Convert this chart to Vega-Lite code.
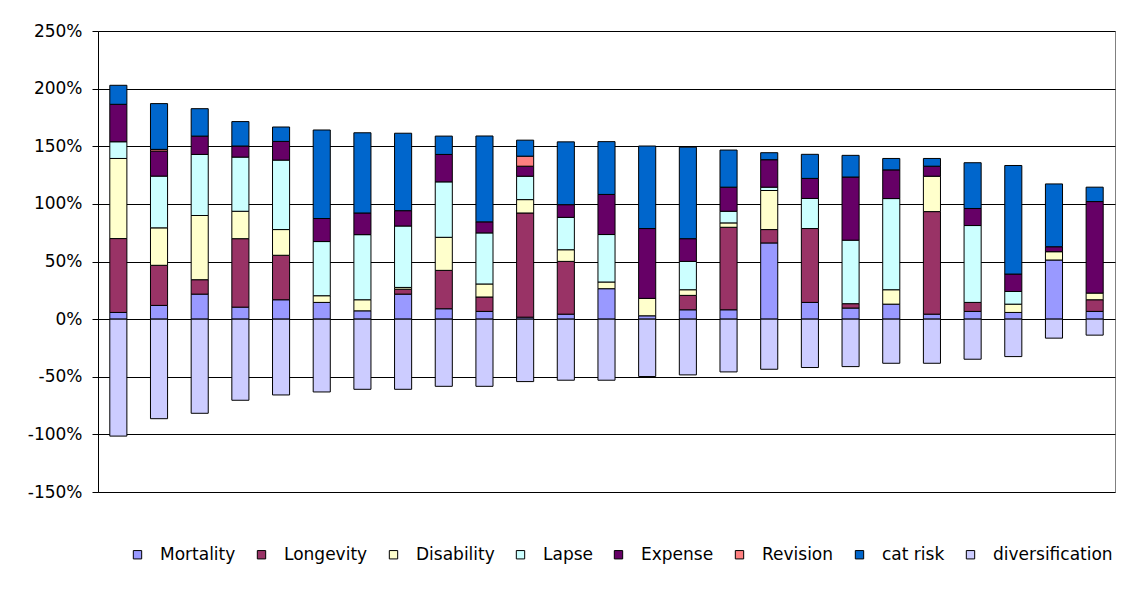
{
  "$schema": "https://vega.github.io/schema/vega-lite/v6.json",
  "autosize": {"type": "none"},
  "padding": {"left": 98, "top": 31, "right": 7, "bottom": 98},
  "width": 1017,
  "height": 461,
  "background": "white",
  "config": {
    "view": {"stroke": "#808080", "strokeWidth": 1},
    "font": "DejaVu Sans"
  },
  "data": {
    "values": [
      {"b": 1, "risk": "Mortality", "v": 0.058}, {"b": 1, "risk": "Longevity", "v": 0.641}, {"b": 1, "risk": "Disability", "v": 0.695}, {"b": 1, "risk": "Lapse", "v": 0.145}, {"b": 1, "risk": "Expense", "v": 0.325}, {"b": 1, "risk": "cat risk", "v": 0.165}, {"b": 1, "risk": "diversification", "v": -1.015},
      {"b": 2, "risk": "Mortality", "v": 0.119}, {"b": 2, "risk": "Longevity", "v": 0.348}, {"b": 2, "risk": "Disability", "v": 0.325}, {"b": 2, "risk": "Lapse", "v": 0.449}, {"b": 2, "risk": "Expense", "v": 0.217}, {"b": 2, "risk": "Revision", "v": 0.015}, {"b": 2, "risk": "cat risk", "v": 0.397}, {"b": 2, "risk": "diversification", "v": -0.864},
      {"b": 3, "risk": "Mortality", "v": 0.217}, {"b": 3, "risk": "Longevity", "v": 0.125}, {"b": 3, "risk": "Disability", "v": 0.557}, {"b": 3, "risk": "Lapse", "v": 0.530}, {"b": 3, "risk": "Expense", "v": 0.159}, {"b": 3, "risk": "cat risk", "v": 0.238}, {"b": 3, "risk": "diversification", "v": -0.817},
      {"b": 4, "risk": "Mortality", "v": 0.104}, {"b": 4, "risk": "Longevity", "v": 0.594}, {"b": 4, "risk": "Disability", "v": 0.238}, {"b": 4, "risk": "Lapse", "v": 0.470}, {"b": 4, "risk": "Expense", "v": 0.096}, {"b": 4, "risk": "cat risk", "v": 0.212}, {"b": 4, "risk": "diversification", "v": -0.704},
      {"b": 5, "risk": "Mortality", "v": 0.168}, {"b": 5, "risk": "Longevity", "v": 0.386}, {"b": 5, "risk": "Disability", "v": 0.223}, {"b": 5, "risk": "Lapse", "v": 0.603}, {"b": 5, "risk": "Expense", "v": 0.162}, {"b": 5, "risk": "cat risk", "v": 0.125}, {"b": 5, "risk": "diversification", "v": -0.658},
      {"b": 6, "risk": "Mortality", "v": 0.145}, {"b": 6, "risk": "Disability", "v": 0.058}, {"b": 6, "risk": "Lapse", "v": 0.470}, {"b": 6, "risk": "Expense", "v": 0.200}, {"b": 6, "risk": "cat risk", "v": 0.768}, {"b": 6, "risk": "diversification", "v": -0.632},
      {"b": 7, "risk": "Mortality", "v": 0.072}, {"b": 7, "risk": "Disability", "v": 0.096}, {"b": 7, "risk": "Lapse", "v": 0.565}, {"b": 7, "risk": "Expense", "v": 0.188}, {"b": 7, "risk": "cat risk", "v": 0.696}, {"b": 7, "risk": "diversification", "v": -0.609},
      {"b": 8, "risk": "Mortality", "v": 0.217}, {"b": 8, "risk": "Longevity", "v": 0.043}, {"b": 8, "risk": "Disability", "v": 0.015}, {"b": 8, "risk": "Lapse", "v": 0.533}, {"b": 8, "risk": "Expense", "v": 0.133}, {"b": 8, "risk": "cat risk", "v": 0.672}, {"b": 8, "risk": "diversification", "v": -0.609},
      {"b": 9, "risk": "Mortality", "v": 0.090}, {"b": 9, "risk": "Longevity", "v": 0.333}, {"b": 9, "risk": "Disability", "v": 0.287}, {"b": 9, "risk": "Lapse", "v": 0.481}, {"b": 9, "risk": "Expense", "v": 0.238}, {"b": 9, "risk": "cat risk", "v": 0.159}, {"b": 9, "risk": "diversification", "v": -0.583},
      {"b": 10, "risk": "Mortality", "v": 0.067}, {"b": 10, "risk": "Longevity", "v": 0.125}, {"b": 10, "risk": "Disability", "v": 0.113}, {"b": 10, "risk": "Lapse", "v": 0.443}, {"b": 10, "risk": "Expense", "v": 0.096}, {"b": 10, "risk": "cat risk", "v": 0.745}, {"b": 10, "risk": "diversification", "v": -0.583},
      {"b": 11, "risk": "Mortality", "v": 0.017}, {"b": 11, "risk": "Longevity", "v": 0.904}, {"b": 11, "risk": "Disability", "v": 0.116}, {"b": 11, "risk": "Lapse", "v": 0.203}, {"b": 11, "risk": "Expense", "v": 0.087}, {"b": 11, "risk": "Revision", "v": 0.087}, {"b": 11, "risk": "cat risk", "v": 0.139}, {"b": 11, "risk": "diversification", "v": -0.542},
      {"b": 12, "risk": "Mortality", "v": 0.043}, {"b": 12, "risk": "Longevity", "v": 0.458}, {"b": 12, "risk": "Disability", "v": 0.101}, {"b": 12, "risk": "Lapse", "v": 0.281}, {"b": 12, "risk": "Expense", "v": 0.110}, {"b": 12, "risk": "cat risk", "v": 0.545}, {"b": 12, "risk": "diversification", "v": -0.530},
      {"b": 13, "risk": "Mortality", "v": 0.264}, {"b": 13, "risk": "Disability", "v": 0.058}, {"b": 13, "risk": "Lapse", "v": 0.412}, {"b": 13, "risk": "Expense", "v": 0.348}, {"b": 13, "risk": "cat risk", "v": 0.458}, {"b": 13, "risk": "diversification", "v": -0.530},
      {"b": 14, "risk": "Mortality", "v": 0.029}, {"b": 14, "risk": "Disability", "v": 0.151}, {"b": 14, "risk": "Expense", "v": 0.606}, {"b": 14, "risk": "cat risk", "v": 0.716}, {"b": 14, "risk": "diversification", "v": -0.498},
      {"b": 15, "risk": "Mortality", "v": 0.081}, {"b": 15, "risk": "Longevity", "v": 0.125}, {"b": 15, "risk": "Disability", "v": 0.049}, {"b": 15, "risk": "Lapse", "v": 0.246}, {"b": 15, "risk": "Expense", "v": 0.197}, {"b": 15, "risk": "cat risk", "v": 0.794}, {"b": 15, "risk": "diversification", "v": -0.484},
      {"b": 16, "risk": "Mortality", "v": 0.081}, {"b": 16, "risk": "Longevity", "v": 0.716}, {"b": 16, "risk": "Disability", "v": 0.038}, {"b": 16, "risk": "Lapse", "v": 0.101}, {"b": 16, "risk": "Expense", "v": 0.209}, {"b": 16, "risk": "cat risk", "v": 0.322}, {"b": 16, "risk": "diversification", "v": -0.458},
      {"b": 17, "risk": "Mortality", "v": 0.661}, {"b": 17, "risk": "Longevity", "v": 0.116}, {"b": 17, "risk": "Disability", "v": 0.339}, {"b": 17, "risk": "Lapse", "v": 0.029}, {"b": 17, "risk": "Expense", "v": 0.238}, {"b": 17, "risk": "cat risk", "v": 0.061}, {"b": 17, "risk": "diversification", "v": -0.435},
      {"b": 18, "risk": "Mortality", "v": 0.145}, {"b": 18, "risk": "Longevity", "v": 0.641}, {"b": 18, "risk": "Lapse", "v": 0.261}, {"b": 18, "risk": "Expense", "v": 0.174}, {"b": 18, "risk": "cat risk", "v": 0.209}, {"b": 18, "risk": "diversification", "v": -0.420},
      {"b": 19, "risk": "Mortality", "v": 0.096}, {"b": 19, "risk": "Longevity", "v": 0.038}, {"b": 19, "risk": "Lapse", "v": 0.551}, {"b": 19, "risk": "Expense", "v": 0.548}, {"b": 19, "risk": "cat risk", "v": 0.188}, {"b": 19, "risk": "diversification", "v": -0.412},
      {"b": 20, "risk": "Mortality", "v": 0.130}, {"b": 20, "risk": "Disability", "v": 0.125}, {"b": 20, "risk": "Lapse", "v": 0.791}, {"b": 20, "risk": "Expense", "v": 0.249}, {"b": 20, "risk": "cat risk", "v": 0.099}, {"b": 20, "risk": "diversification", "v": -0.383},
      {"b": 21, "risk": "Mortality", "v": 0.043}, {"b": 21, "risk": "Longevity", "v": 0.890}, {"b": 21, "risk": "Disability", "v": 0.307}, {"b": 21, "risk": "Expense", "v": 0.087}, {"b": 21, "risk": "cat risk", "v": 0.067}, {"b": 21, "risk": "diversification", "v": -0.383},
      {"b": 22, "risk": "Mortality", "v": 0.067}, {"b": 22, "risk": "Longevity", "v": 0.078}, {"b": 22, "risk": "Lapse", "v": 0.667}, {"b": 22, "risk": "Expense", "v": 0.148}, {"b": 22, "risk": "cat risk", "v": 0.397}, {"b": 22, "risk": "diversification", "v": -0.348},
      {"b": 23, "risk": "Mortality", "v": 0.058}, {"b": 23, "risk": "Disability", "v": 0.072}, {"b": 23, "risk": "Lapse", "v": 0.110}, {"b": 23, "risk": "Expense", "v": 0.151}, {"b": 23, "risk": "cat risk", "v": 0.942}, {"b": 23, "risk": "diversification", "v": -0.325},
      {"b": 24, "risk": "Mortality", "v": 0.513}, {"b": 24, "risk": "Disability", "v": 0.072}, {"b": 24, "risk": "Expense", "v": 0.043}, {"b": 24, "risk": "cat risk", "v": 0.545}, {"b": 24, "risk": "diversification", "v": -0.165},
      {"b": 25, "risk": "Mortality", "v": 0.067}, {"b": 25, "risk": "Longevity", "v": 0.101}, {"b": 25, "risk": "Disability", "v": 0.058}, {"b": 25, "risk": "Expense", "v": 0.794}, {"b": 25, "risk": "cat risk", "v": 0.125}, {"b": 25, "risk": "diversification", "v": -0.139}
    ]
  },
  "transform": [
    {"lookup": "risk", "from": {"data": {"values": [
      {"risk": "Mortality", "ord": 1}, {"risk": "Longevity", "ord": 2}, {"risk": "Disability", "ord": 3}, {"risk": "Lapse", "ord": 4},
      {"risk": "Expense", "ord": 5}, {"risk": "Revision", "ord": 6}, {"risk": "cat risk", "ord": 7}, {"risk": "diversification", "ord": 8}
    ]}, "key": "risk", "fields": ["ord"]}}
  ],
  "mark": {"type": "bar", "stroke": "#000000", "strokeWidth": 1},
  "encoding": {
    "x": {
      "field": "b", "type": "ordinal",
      "scale": {"paddingInner": 0.58, "paddingOuter": 0.29},
      "axis": null
    },
    "y": {
      "field": "v", "type": "quantitative", "stack": "zero",
      "scale": {"domain": [-1.5, 2.5], "nice": false},
      "axis": {
        "title": null,
        "values": [-1.5, -1, -0.5, 0, 0.5, 1, 1.5, 2, 2.5],
        "labelExpr": "replace(format(datum.value, '.0%'), '\u2212', '-')",
        "grid": true, "gridColor": "#000000", "gridWidth": 1, "gridOpacity": 1,
        "domainColor": "#000000", "tickColor": "#000000", "tickSize": 6,
        "labelFont": "DejaVu Sans", "labelFontSize": 17, "labelColor": "#000000", "labelPadding": 10
      }
    },
    "color": {
      "field": "risk", "type": "nominal",
      "scale": {
        "domain": ["Mortality", "Longevity", "Disability", "Lapse", "Expense", "Revision", "cat risk", "diversification"],
        "range": ["#9999FF", "#993366", "#FFFFCC", "#CCFFFF", "#660066", "#FF8080", "#0066CC", "#CCCCFF"]
      },
      "legend": {
        "title": null,
        "orient": "none", "legendX": 31, "legendY": 515,
        "direction": "horizontal", "columns": 8,
        "symbolType": "square", "symbolSize": 70, "symbolStrokeColor": "#000000", "symbolStrokeWidth": 1, "symbolOpacity": 1,
        "labelFont": "DejaVu Sans", "labelFontSize": 17, "labelColor": "#000000", "labelOffset": 14, "labelLimit": 300,
        "columnPadding": 17, "padding": 0
      }
    },
    "order": {"field": "ord", "type": "quantitative", "sort": "ascending"}
  }
}
